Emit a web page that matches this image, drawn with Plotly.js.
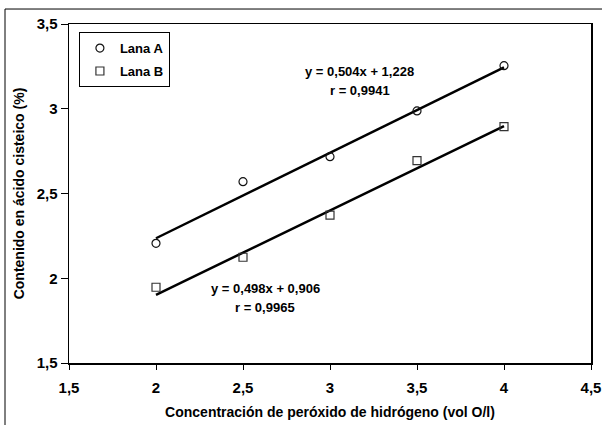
<!DOCTYPE html>
<html>
<head>
<meta charset="utf-8">
<script src="https://cdn.plot.ly/plotly-3.0.1.min.js"></script>
<style>
html,body{margin:0;padding:0;background:#fff;}
#chart{width:602px;height:425px;}
</style>
</head>
<body>
<div id="chart"></div>
<script>
// Data
const concentracion = [2, 2.5, 3, 3.5, 4];
const lanaA = [2.206, 2.57, 2.717, 2.987, 3.254];
const lanaB = [1.947, 2.124, 2.373, 2.694, 2.894];
// Regression coefficients shown on the chart
const fitA = {slope: 0.504, intercept: 1.228, r: "0,9941"};
const fitB = {slope: 0.498, intercept: 0.906, r: "0,9965"};
const fitRange = [2, 4];
const xTicks = [1.5, 2, 2.5, 3, 3.5, 4, 4.5];
const xTickLabels = ["1,5", "2", "2,5", "3", "3,5", "4", "4,5"];
const yTicks = [1.5, 2, 2.5, 3, 3.5];
const yTickLabels = ["1,5", "2", "2,5", "3", "3,5"];

const FONT = "Liberation Sans, Arial, sans-serif";
const fitLine = f => fitRange.map(x => f.slope * x + f.intercept);
const b = s => "<b>" + s + "</b>";
const fmt = v => v.toFixed(3).replace(".", ",");

const traces = [
  {x: fitRange, y: fitLine(fitA), mode: "lines", line: {color: "#000", width: 2.5}, showlegend: false, hoverinfo: "skip"},
  {x: fitRange, y: fitLine(fitB), mode: "lines", line: {color: "#000", width: 2.5}, showlegend: false, hoverinfo: "skip"},
  {x: concentracion, y: lanaA, name: b("Lana A"), mode: "markers", legendgroup: "a",
   marker: {symbol: "circle-open", size: 8, color: "#111", line: {width: 1.2}}},
  {x: concentracion, y: lanaB, name: b("Lana B"), mode: "markers", legendgroup: "b",
   marker: {symbol: "square-open", size: 8, color: "#333", line: {width: 1.2}}}
];

const annFont = {family: FONT, size: 13, color: "#000"};
const ann = (x, y, t) => ({x: x, y: y, xref: "x", yref: "y", showarrow: false, text: b(t), font: annFont});

const layout = {
  width: 602, height: 425,
  margin: {l: 69, r: 11, t: 24, b: 62},
  paper_bgcolor: "#fff", plot_bgcolor: "#fff",
  separators: ",.",
  font: {family: FONT, size: 14, color: "#000"},
  showlegend: true,
  legend: {x: 0.019, y: 0.976, xanchor: "left", yanchor: "top",
    bordercolor: "#000", borderwidth: 1, bgcolor: "#fff",
    font: {family: FONT, size: 13, color: "#000"},
    itemwidth: 30, traceorder: "grouped", tracegroupgap: 3},
  xaxis: {range: [1.5, 4.5], tickvals: xTicks, ticktext: xTickLabels.map(b), ticks: "outside", ticklen: 5, tickcolor: "#000",
    ticklabelstandoff: 5,
    showgrid: false, zeroline: false, showline: true, linecolor: "#000", linewidth: 1.5, mirror: true,
    tickfont: {family: FONT, size: 15},
    title: {text: b("Concentración de peróxido de hidrógeno (vol O/l)"), standoff: 12,
      font: {family: FONT, size: 14}}},
  yaxis: {range: [1.5, 3.5], tickvals: yTicks, ticktext: yTickLabels.map(b), ticks: "outside", ticklen: 7, tickcolor: "#000",
    showgrid: false, zeroline: false, showline: true, linecolor: "#000", linewidth: 1.5, mirror: true,
    tickfont: {family: FONT, size: 15},
    title: {text: b("Contenido en ácido cisteico (%)"), standoff: 8,
      font: {family: FONT, size: 14}}},
  annotations: [
    ann(3.172, 3.217, "y = " + fmt(fitA.slope) + "x + " + fmt(fitA.intercept)),
    ann(3.172, 3.105, "r = " + fitA.r),
    ann(2.629, 1.942, "y = " + fmt(fitB.slope) + "x + " + fmt(fitB.intercept)),
    ann(2.629, 1.830, "r = " + fitB.r)
  ],
  shapes: [
    {type: "rect", xref: "paper", yref: "paper", x0: -0.1226, x1: 1.2, y0: -0.3, y1: 1.0442,
     line: {color: "#000", width: 1}, fillcolor: "rgba(0,0,0,0)", layer: "below"}
  ]
};

Plotly.newPlot("chart", traces, layout, {staticPlot: true, displayModeBar: false});
</script>
</body>
</html>
